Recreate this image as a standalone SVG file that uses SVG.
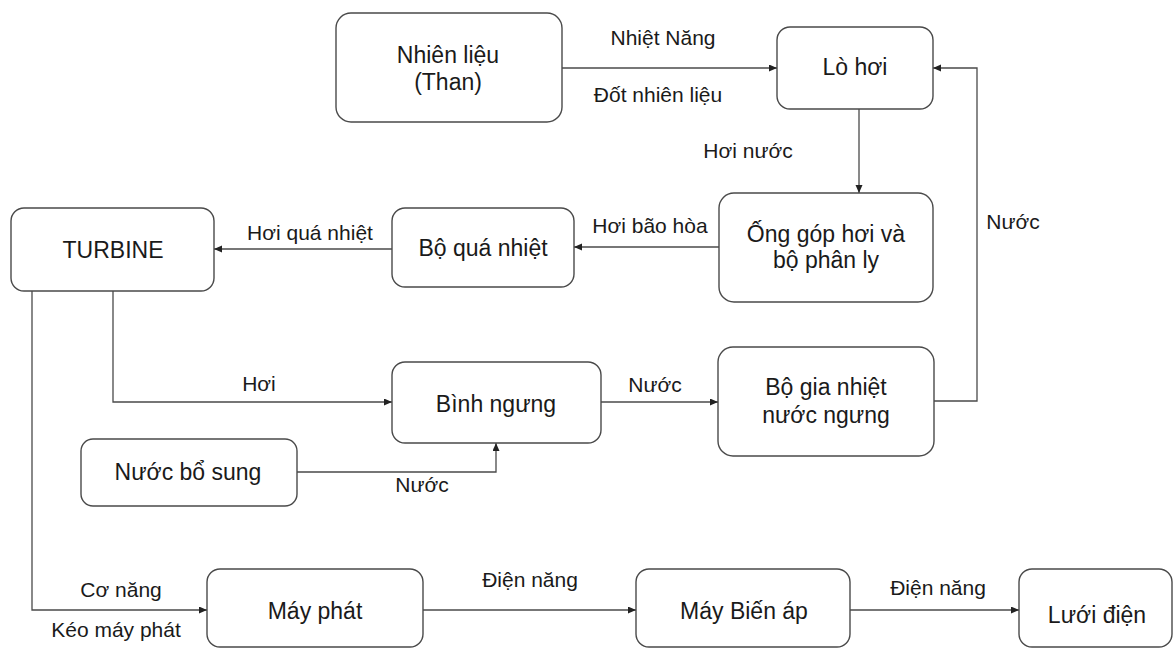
<svg xmlns="http://www.w3.org/2000/svg" width="1175" height="649" viewBox="0 0 1175 649">
  <style>
    .box { fill: #ffffff; stroke: #4a4a4a; stroke-width: 1.4; }
    .node { font-family: "Liberation Sans", Arial, sans-serif; font-size: 23px; fill: #1a1a1a; text-anchor: middle; }
    .lbl { font-family: "Liberation Sans", Arial, sans-serif; font-size: 21px; fill: #1a1a1a; text-anchor: middle; }
    .edge { fill: none; stroke: #4a4a4a; stroke-width: 1.3; marker-end: url(#arrow); }
  </style>
  <defs>
    <marker id="arrow" markerUnits="userSpaceOnUse" markerWidth="9" markerHeight="8" refX="8" refY="3.5" orient="auto">
      <path d="M0,0 L8,3.5 L0,7 z" fill="#222222"/>
    </marker>
  </defs>
  <rect width="1175" height="649" fill="#ffffff"/>

  <!-- connectors -->
  <g id="connectors">
    <path class="edge" d="M562,68 H777"/>
    <path class="edge" d="M859,109 V193"/>
    <path class="edge" d="M719,247 H574"/>
    <path class="edge" d="M392,249 H214"/>
    <path class="edge" d="M113,291 V402 H392"/>
    <path class="edge" d="M601,402 H718"/>
    <path class="edge" d="M934,401 H977 V68 H933"/>
    <path class="edge" d="M297,472 H496 V443"/>
    <path class="edge" d="M32,291 V610 H207"/>
    <path class="edge" d="M423,610 H636"/>
    <path class="edge" d="M850,610 H1019"/>
  </g>

  <!-- connector labels -->
  <g id="labels">
    <text class="lbl" x="663" y="45">Nhiệt Năng</text>
    <text class="lbl" x="658" y="102">Đốt nhiên liệu</text>
    <text class="lbl" x="748" y="158">Hơi nước</text>
    <text class="lbl" x="650" y="233">Hơi bão hòa</text>
    <text class="lbl" x="310" y="240">Hơi quá nhiệt</text>
    <text class="lbl" x="1013" y="229">Nước</text>
    <text class="lbl" x="259" y="391">Hơi</text>
    <text class="lbl" x="655" y="392">Nước</text>
    <text class="lbl" x="422" y="492">Nước</text>
    <text class="lbl" x="121" y="597">Cơ năng</text>
    <text class="lbl" x="116" y="637">Kéo máy phát</text>
    <text class="lbl" x="530" y="587">Điện năng</text>
    <text class="lbl" x="938" y="595">Điện năng</text>
  </g>

  <g id="nhien-lieu">
    <rect class="box" x="336" y="13" width="226" height="109" rx="15"/>
    <text class="node" x="448" y="63">Nhiên liệu</text>
    <text class="node" x="448" y="90">(Than)</text>
  </g>
  <g id="lo-hoi">
    <rect class="box" x="777" y="27" width="156" height="82" rx="13"/>
    <text class="node" x="855" y="75">Lò hơi</text>
  </g>
  <g id="ong-gop">
    <rect class="box" x="719" y="193" width="214" height="109" rx="15"/>
    <text class="node" x="826" y="242">Ống góp hơi và</text>
    <text class="node" x="826" y="268">bộ phân ly</text>
  </g>
  <g id="bo-qua-nhiet">
    <rect class="box" x="392" y="208" width="182" height="79" rx="13"/>
    <text class="node" x="483" y="256">Bộ quá nhiệt</text>
  </g>
  <g id="turbine">
    <rect class="box" x="11" y="208" width="203" height="83" rx="13"/>
    <text class="node" x="113" y="258">TURBINE</text>
  </g>
  <g id="binh-ngung">
    <rect class="box" x="392" y="362" width="209" height="81" rx="13"/>
    <text class="node" x="496" y="412">Bình ngưng</text>
  </g>
  <g id="bo-gia-nhiet">
    <rect class="box" x="718" y="347" width="216" height="109" rx="15"/>
    <text class="node" x="826" y="395">Bộ gia nhiệt</text>
    <text class="node" x="826" y="423">nước ngưng</text>
  </g>
  <g id="nuoc-bo-sung">
    <rect class="box" x="81" y="439" width="216" height="67" rx="12"/>
    <text class="node" x="188" y="480">Nước bổ sung</text>
  </g>
  <g id="may-phat">
    <rect class="box" x="207" y="569" width="216" height="78" rx="13"/>
    <text class="node" x="315" y="619">Máy phát</text>
  </g>
  <g id="may-bien-ap">
    <rect class="box" x="636" y="569" width="214" height="78" rx="13"/>
    <text class="node" x="744" y="619">Máy Biến áp</text>
  </g>
  <g id="luoi-dien">
    <rect class="box" x="1019" y="569" width="153" height="78" rx="13"/>
    <text class="node" x="1097" y="623">Lưới điện</text>
  </g>
</svg>
